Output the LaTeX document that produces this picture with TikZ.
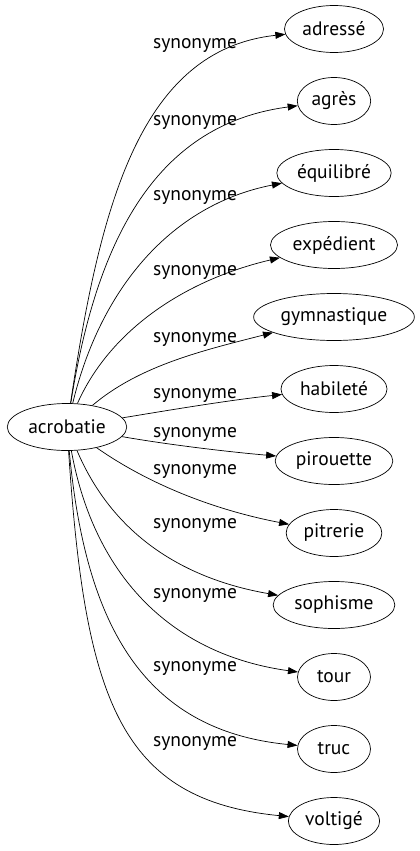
\documentclass[tikz,border=0pt]{standalone}
\usepackage{fontspec}
\setmainfont{PT Sans}
\usetikzlibrary{arrows.meta,shapes.geometric}
\tikzset{>={Triangle[width=7pt,length=10pt]}}
\tikzset{
  word/.style={draw, ellipse, inner xsep=3.5pt, inner ysep=0pt,
    minimum width=73pt, minimum height=47pt, font=\fontsize{19.5}{21}\selectfont},
  rel/.style={font=\fontsize{19.5}{21}\selectfont, inner sep=0pt}
}

\begin{document}
\begin{tikzpicture}[x=1pt, y=-1pt, line width=0.7pt]
  \useasboundingbox (0,0) rectangle (420,851);

  \node[word] (acrobatie) at (67,427) {acrobatie};

  \node[word] (adresse)     at (334, 29) {adressé};
  \node[word] (agres)       at (334,101) {agrès};
  \node[word] (equilibre)   at (334,173) {équilibré};
  \node[word] (expedient)   at (334,245) {expédient};
  \node[word] (gymnastique) at (334,317) {gymnastique};
  \node[word] (habilete)    at (334,389) {habileté};
  \node[word] (pirouette)   at (334,461) {pirouette};
  \node[word] (pitrerie)    at (334,533) {pitrerie};
  \node[word] (sophisme)    at (334,605) {sophisme};
  \node[word] (tour)        at (334,677) {tour};
  \node[word] (truc)        at (334,749) {truc};
  \node[word] (voltige)     at (334,821) {voltigé};

  % upper fan
  \draw[->](acrobatie) .. controls (100,205) and (140,50) .. (adresse);
  \draw[->](acrobatie) .. controls (95,250) and (150,125) .. (agres);
  \draw[->](acrobatie) .. controls (100,290) and (170,205) .. (equilibre);
  \draw[->](acrobatie) .. controls (110,330) and (185,280) .. (expedient);
  \draw[->](acrobatie) .. controls (140,365) and (205,350) .. (gymnastique);
  \draw[->](acrobatie) .. controls (170,410) and (230,400) .. (habilete);
  \draw[->](acrobatie) .. controls (170,445) and (230,452) .. (pirouette);

  % lower fan
  \draw[->](acrobatie) .. controls (150,485) and (215,510) .. (pitrerie);
  \draw[->](acrobatie) .. controls (115,540) and (190,580) .. (sophisme);
  \draw[->](acrobatie) .. controls (95,580) and (175,655) .. (tour);
  \draw[->](acrobatie) .. controls (85,620) and (140,730) .. (truc);
  \draw[->](acrobatie) .. controls (85,700) and (120,800) .. (voltige);

  \node[rel] (r1)  at (195, 46) {synonyme};
  \node[rel] (r2)  at (195,123) {synonyme};
  \node[rel] (r3)  at (195,198) {synonyme};
  \node[rel] (r4)  at (195,273) {synonyme};
  \node[rel] (r5)  at (195,340) {synonyme};
  \node[rel] (r6)  at (195,396) {synonyme};
  \node[rel] (r7)  at (195,435) {synonyme};
  \node[rel] (r8)  at (195,472) {synonyme};
  \node[rel] (r9)  at (195,526) {synonyme};
  \node[rel] (r10) at (195,595) {synonyme};
  \node[rel] (r11) at (195,668) {synonyme};
  \node[rel] (r12) at (195,743) {synonyme};
\end{tikzpicture}
\end{document}
